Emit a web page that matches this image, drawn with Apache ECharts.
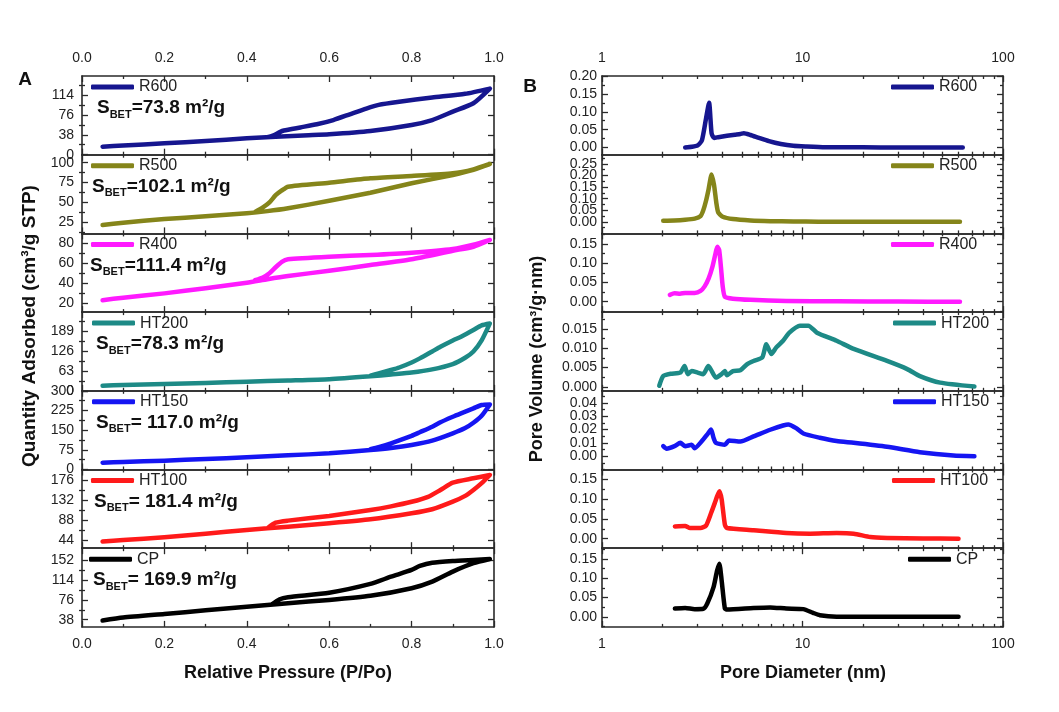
<!DOCTYPE html>
<html><head><meta charset="utf-8">
<script src="https://cdn.jsdelivr.net/npm/echarts@6/dist/echarts.min.js"></script>
<style>html,body{margin:0;padding:0;background:#fff}#c{width:1059px;height:712px}</style>
</head><body><div id="c"></div>
<script>
// ---------------- DATA ----------------
const samples = ['R600', 'R500', 'R400', 'HT200', 'HT150', 'HT100', 'CP'];
const colors = ['#16168f', '#85851a', '#ff1aff', '#1d8a86', '#1515f2', '#ff1a1a', '#000000'];
const sbetText = ['=73.8 m²/g', '=102.1 m²/g', '=111.4 m²/g', '=78.3 m²/g', '= 117.0 m²/g', '= 181.4 m²/g', '= 169.9 m²/g'];

// Isotherms: adsorption (P ascending) and desorption (P descending)
const r600AdsP = [0.05, 0.1, 0.2, 0.3, 0.4, 0.47, 0.55, 0.6, 0.7, 0.8, 0.85, 0.9, 0.95, 0.99];
const r600AdsQ = [15.3, 17.5, 21.7, 26, 31.3, 34.3, 37, 38.8, 45.2, 56.6, 66, 82, 98, 126];
const r600DesP = [0.99, 0.93, 0.85, 0.77, 0.72, 0.69, 0.65, 0.61, 0.57, 0.53, 0.49, 0.48, 0.465, 0.45];
const r600DesQ = [126, 116, 109, 101, 95, 88, 77, 66, 58, 52, 46, 43, 37, 33.5];

const r500AdsP = [0.05, 0.1, 0.2, 0.3, 0.4, 0.45, 0.5, 0.6, 0.7, 0.8, 0.9, 0.95, 0.99];
const r500AdsQ = [21.6, 24.5, 29.1, 32.5, 36.3, 39, 42.6, 52, 62.2, 74, 84.5, 90.8, 98.3];
const r500DesP = [0.99, 0.95, 0.9, 0.8, 0.7, 0.6, 0.5, 0.485, 0.47, 0.455, 0.44, 0.42];
const r500DesQ = [98.3, 91.6, 86.6, 83.2, 80.3, 74.8, 69.8, 65, 59, 50, 44, 38];

const r400AdsP = [0.05, 0.1, 0.2, 0.3, 0.4, 0.45, 0.5, 0.6, 0.7, 0.8, 0.9, 0.95, 0.99];
const r400AdsQ = [23, 25.5, 29.8, 35, 40.5, 44, 47.2, 52.5, 58.2, 64, 72.6, 76.6, 83.4];
const r400DesP = [0.99, 0.95, 0.9, 0.8, 0.7, 0.6, 0.5, 0.485, 0.47, 0.455, 0.44, 0.42];
const r400DesQ = [83.4, 78.6, 74.3, 70.6, 68.3, 66.6, 64, 61.5, 56, 50, 46, 43];

const ht200AdsP = [0.05, 0.1, 0.2, 0.3, 0.4, 0.5, 0.6, 0.7, 0.75, 0.8, 0.85, 0.9, 0.93, 0.95, 0.97, 0.99];
const ht200AdsQ = [16.3, 18.5, 21.6, 25, 29, 32.5, 36.5, 46, 52, 58, 68, 85, 105, 125, 160, 214];
const ht200DesP = [0.99, 0.97, 0.95, 0.92, 0.9, 0.87, 0.85, 0.82, 0.8, 0.77, 0.75, 0.72, 0.7];
const ht200DesQ = [214, 208, 193, 172, 160, 140, 125, 103, 90, 74, 66, 55, 48];

const ht150AdsP = [0.05, 0.1, 0.2, 0.3, 0.4, 0.5, 0.6, 0.7, 0.75, 0.8, 0.85, 0.9, 0.93, 0.95, 0.97, 0.99];
const ht150AdsQ = [26, 29, 33.6, 40, 46.5, 54, 61.7, 74.3, 82, 93.4, 110, 138, 158, 178, 205, 248];
const ht150DesP = [0.99, 0.97, 0.95, 0.92, 0.9, 0.87, 0.85, 0.82, 0.8, 0.75, 0.72, 0.7];
const ht150DesQ = [248, 246, 233, 214, 201, 180, 163, 142, 128, 100, 85, 77];

const ht100AdsP = [0.05, 0.1, 0.2, 0.3, 0.4, 0.5, 0.6, 0.7, 0.8, 0.85, 0.9, 0.93, 0.95, 0.97, 0.99];
const ht100AdsQ = [41.5, 45, 51, 59, 67, 74.4, 82, 90.6, 103.8, 112.6, 129.3, 142, 155, 170, 188];
const ht100DesP = [0.99, 0.95, 0.9, 0.87, 0.84, 0.8, 0.75, 0.7, 0.6, 0.5, 0.47, 0.45];
const ht100DesQ = [188, 180.6, 171, 155, 140, 129, 119, 111, 98, 87.6, 83, 71];

const cpAdsP = [0.05, 0.1, 0.2, 0.3, 0.4, 0.5, 0.6, 0.7, 0.8, 0.85, 0.9, 0.95, 0.99];
const cpAdsQ = [36.2, 42, 49, 56, 63, 69.8, 76, 84, 98.7, 111.5, 130.8, 147, 155];
const cpDesP = [0.99, 0.95, 0.9, 0.85, 0.82, 0.8, 0.75, 0.7, 0.6, 0.5, 0.48, 0.46];
const cpDesQ = [155, 153.4, 151.4, 148, 141.8, 134, 121, 107, 90, 81.4, 77.5, 67];

// Pore size distributions
const r600D = [2.6, 2.8, 3.0, 3.15, 3.3, 3.42, 3.52, 3.62, 3.8, 4.2, 4.6, 4.9, 5.1, 5.5, 6.0, 6.8, 7.8, 9, 10.5, 13, 20, 30, 45, 63];
const r600V = [0.000, 0.002, 0.006, 0.02, 0.08, 0.125, 0.04, 0.027, 0.029, 0.033, 0.036, 0.038, 0.040, 0.035, 0.028, 0.018, 0.010, 0.005, 0.003, 0.001, 0.0005, 0.0002, 0.0001, 0.0];
const r500D = [2.02, 2.3, 2.6, 2.9, 3.1, 3.2, 3.3, 3.4, 3.52, 3.62, 3.72, 3.8, 4.0, 4.5, 5.5, 6.9, 9, 12, 20, 35, 61];
const r500V = [0.005, 0.006, 0.009, 0.014, 0.025, 0.05, 0.09, 0.14, 0.205, 0.16, 0.08, 0.04, 0.022, 0.012, 0.006, 0.003, 0.0015, 0.0008, 0.0003, 0.0001, 0.0];
const r400D = [2.18, 2.3, 2.45, 2.6, 2.9, 3.1, 3.25, 3.4, 3.55, 3.68, 3.76, 3.84, 3.92, 4.0, 4.1, 4.5, 5.5, 8.3, 15, 30, 61];
const r400V = [0.018, 0.022, 0.021, 0.023, 0.023, 0.028, 0.04, 0.06, 0.09, 0.125, 0.143, 0.135, 0.09, 0.04, 0.013, 0.008, 0.005, 0.002, 0.001, 0.0005, 0.0];
const ht200D = [1.93, 2.02, 2.2, 2.46, 2.58, 2.68, 2.8, 3.0, 3.2, 3.39, 3.5, 3.7, 3.95, 4.1, 4.2, 4.5, 4.9, 5.3, 5.7, 6.3, 6.6, 7.0, 7.4, 8.0, 8.6, 9.7, 10.7, 11.8, 14.8, 18, 26.4, 33.3, 38.5, 48.6, 72];
const ht200V = [0.0003, 0.0028, 0.0034, 0.0037, 0.0054, 0.0033, 0.0041, 0.0037, 0.0033, 0.0054, 0.0044, 0.0024, 0.0033, 0.0041, 0.003, 0.0041, 0.0043, 0.0059, 0.0067, 0.0076, 0.011, 0.0085, 0.0102, 0.0119, 0.014, 0.0158, 0.0158, 0.014, 0.0119, 0.0098, 0.0067, 0.0046, 0.0028, 0.0011, 0.0001];
const ht150D = [2.02, 2.1, 2.3, 2.46, 2.6, 2.8, 2.9, 3.15, 3.35, 3.5, 3.6, 3.7, 4.1, 4.3, 4.9, 5.7, 6.9, 8.0, 8.5, 9.3, 10.1, 12.2, 14.8, 18, 26.4, 38.5, 56.5, 72];
const ht150V = [0.0075, 0.0056, 0.0075, 0.01, 0.0075, 0.0085, 0.006, 0.0113, 0.0163, 0.02, 0.0138, 0.01, 0.0085, 0.0118, 0.011, 0.0148, 0.0198, 0.023, 0.0238, 0.021, 0.017, 0.0138, 0.0113, 0.01, 0.007, 0.003, 0.0005, 0.0];
const ht100D = [2.31, 2.6, 2.75, 3.1, 3.3, 3.5, 3.65, 3.75, 3.85, 3.95, 4.1, 4.2, 5.7, 8.3, 10.9, 14.8, 18, 21.8, 26.4, 40, 60];
const ht100V = [0.031, 0.032, 0.027, 0.027, 0.033, 0.065, 0.09, 0.107, 0.12, 0.1, 0.0355, 0.027, 0.0215, 0.0144, 0.0127, 0.0144, 0.0127, 0.0042, 0.002, 0.0005, 0.0];
const cpD = [2.31, 2.6, 2.9, 3.2, 3.35, 3.6, 3.75, 3.85, 3.95, 4.1, 4.2, 5.7, 6.9, 8.3, 10.1, 11.3, 12.2, 14.8, 30, 60];
const cpV = [0.0216, 0.023, 0.02, 0.021, 0.0345, 0.077, 0.12, 0.138, 0.095, 0.0216, 0.019, 0.023, 0.0246, 0.0216, 0.02, 0.0103, 0.0044, 0.0005, 0.0, 0.0];

// Axis ranges and tick labels
const leftYMin = [0, 11, 11, 0, 0, 27, 24];
const leftYMax = [150, 110, 90, 250, 300, 200, 176];
const leftYTicks = [[0, 38, 76, 114], [25, 50, 75, 100], [20, 40, 60, 80], [0, 63, 126, 189], [0, 75, 150, 225, 300], [44, 88, 132, 176], [38, 76, 114, 152]];
const leftYMinor = [[19, 57, 95, 133], [12.5, 37.5, 62.5, 87.5], [30, 50, 70], [31.5, 94.5, 157.5, 220.5], [37.5, 112.5, 187.5, 262.5], [66, 110, 154], [57, 95, 133]];
const rightYMin = [-0.02, -0.05, -0.027, -0.001, -0.01, -0.024, -0.026];
const rightYMax = [0.20, 0.29, 0.178, 0.0193, 0.049, 0.175, 0.178];
const rightYTicks = [[0, 0.05, 0.10, 0.15, 0.20], [0, 0.05, 0.10, 0.15, 0.20, 0.25], [0, 0.05, 0.10, 0.15], [0, 0.005, 0.010, 0.015], [0, 0.01, 0.02, 0.03, 0.04], [0, 0.05, 0.10, 0.15], [0, 0.05, 0.10, 0.15]];
const rightYMinor = [[-0.025, 0.025, 0.075, 0.125, 0.175], [-0.025, 0.025, 0.075, 0.125, 0.175, 0.225, 0.275], [-0.025, 0.025, 0.075, 0.125, 0.175], [0.0025, 0.0075, 0.0125, 0.0175], [-0.005, 0.005, 0.015, 0.025, 0.035, 0.045], [-0.025, 0.025, 0.075, 0.125, 0.175], [-0.025, 0.025, 0.075, 0.125, 0.175]];
const rightYDecimals = [2, 2, 2, 3, 2, 2, 2];

// ---------------- BUILD ----------------
const iso = [
  [r600AdsP, r600AdsQ, r600DesP, r600DesQ], [r500AdsP, r500AdsQ, r500DesP, r500DesQ],
  [r400AdsP, r400AdsQ, r400DesP, r400DesQ], [ht200AdsP, ht200AdsQ, ht200DesP, ht200DesQ],
  [ht150AdsP, ht150AdsQ, ht150DesP, ht150DesQ], [ht100AdsP, ht100AdsQ, ht100DesP, ht100DesQ],
  [cpAdsP, cpAdsQ, cpDesP, cpDesQ]
];
const psd = [[r600D, r600V], [r500D, r500V], [r400D, r400V], [ht200D, ht200V], [ht150D, ht150V], [ht100D, ht100V], [cpD, cpV]];
const zip = (a, b) => a.map((v, i) => [v, b[i]]);

const FONT = '"Liberation Sans", Arial, sans-serif';
const TOP = 76, H = 78.7;
const LG = {left: 82, width: 412}, RG = {left: 602, width: 401};
const AXC = '#2a2a2a';
const lineSt = {color: AXC, width: 1.6};
const tickSt = {color: AXC, width: 1.3};
const labelSt = {color: '#222', fontSize: 14, fontFamily: FONT};

const grid = [], xAxis = [], yAxis = [], series = [], legend = [], title = [];

for (let side = 0; side < 2; side++) {
  for (let i = 0; i < 7; i++) {
    const g = grid.length;
    const base = side === 0 ? LG : RG;
    grid.push({left: base.left, width: base.width, top: TOP + i * H, height: H});
    const xIdx = xAxis.length;
    ['bottom', 'top'].forEach(pos => {
      const showLab = (pos === 'bottom' && i === 6) || (pos === 'top' && i === 0);
      const ax = {
        gridIndex: g, position: pos,
        axisLine: {show: true, onZero: false, lineStyle: lineSt},
        axisTick: {show: true, inside: true, length: 6, lineStyle: tickSt},
        splitLine: {show: false},
        axisLabel: Object.assign({show: showLab, margin: pos === 'top' ? 11 : 10, showMinLabel: true, showMaxLabel: true}, labelSt)
      };
      if (side === 0) {
        Object.assign(ax, {type: 'value', min: 0, max: 1, interval: 0.2});
        ax.minorTick = {show: true, splitNumber: 2, length: 3, lineStyle: tickSt};
        ax.axisLabel.formatter = v => v.toFixed(1);
      } else {
        Object.assign(ax, {type: 'log', logBase: 10, min: 1, max: 100});
        ax.minorTick = {show: true, splitNumber: 9, length: 3, lineStyle: tickSt};
        ax.axisLabel.formatter = v => String(Math.round(v));
      }
      xAxis.push(ax);
    });
    const ymin = side === 0 ? leftYMin[i] : rightYMin[i];
    const ymax = side === 0 ? leftYMax[i] : rightYMax[i];
    const majors = side === 0 ? leftYTicks[i] : rightYTicks[i];
    const minors = side === 0 ? leftYMinor[i] : rightYMinor[i];
    const dec = side === 0 ? 0 : rightYDecimals[i];
    // labels split over two axes (alternating) so the library never drops crowded ones
    const labA = majors.filter((v, k) => k % 2 === 0);
    const labB = majors.filter((v, k) => k % 2 === 1);
    const yIdx = yAxis.length;
    const labOpt = (vals, show) => Object.assign({show: show, customValues: vals, margin: side === 0 ? 8 : 5,
      showMinLabel: true, showMaxLabel: true, hideOverlap: false,
      formatter: v => Number(v).toFixed(dec)}, labelSt);
    ['left', 'right'].forEach(pos => {
      yAxis.push({
        gridIndex: g, type: 'value', position: pos, min: ymin, max: ymax,
        axisLine: {show: true, onZero: false, lineStyle: lineSt},
        axisTick: {show: true, inside: true, length: 6, customValues: majors, lineStyle: tickSt},
        splitLine: {show: false},
        axisLabel: labOpt(labA, pos === 'left')
      });
      yAxis.push({
        gridIndex: g, type: 'value', position: pos, min: ymin, max: ymax,
        axisLine: {show: false},
        axisTick: {show: true, inside: true, length: 3, customValues: minors, lineStyle: tickSt},
        splitLine: {show: false},
        axisLabel: labOpt(labB, pos === 'left' && labB.length > 0)
      });
    });
    let data;
    if (side === 0) {
      const d = iso[i];
      data = zip(d[0], d[1]).concat(zip(d[2], d[3]));
    } else {
      data = zip(psd[i][0], psd[i][1]);
    }
    series.push({
      name: samples[i], type: 'line', xAxisIndex: xIdx, yAxisIndex: yIdx, data: data,
      showSymbol: false, symbol: 'none', smooth: 0.2, clip: true,
      lineStyle: {width: 4.5, color: colors[i], cap: 'round', join: 'round'},
      itemStyle: {color: colors[i]}, z: 3
    });
    const legLeft = side === 0 ? [91, 91, 91, 92, 92, 91, 89][i] : [891, 891, 891, 893, 893, 892, 908][i];
    legend.push({
      data: [{name: samples[i], icon: 'roundRect'}], left: legLeft, top: TOP + i * H + 3,
      itemWidth: 43, itemHeight: 5, padding: 0, selectedMode: false,
      textStyle: {fontSize: 16, color: '#222', fontFamily: FONT}
    });
    if (side === 0) {
      title.push({
        text: '{s|S}{b|BET}{t|' + sbetText[i] + '}',
        left: [97, 92, 90, 96, 96, 94, 93][i], top: TOP + i * H + 20, padding: 0,
        textStyle: {
          rich: {
            s: {fontSize: 19, fontWeight: 'bold', fontFamily: FONT, color: '#111', lineHeight: 24, verticalAlign: 'middle'},
            b: {fontSize: 11, fontWeight: 'bold', fontFamily: FONT, color: '#111', lineHeight: 10, verticalAlign: 'bottom'},
            t: {fontSize: 19, fontWeight: 'bold', fontFamily: FONT, color: '#111', lineHeight: 24, verticalAlign: 'middle'}
          }
        }
      });
    }
  }
}

const txt = (x, y, text, size, rot) => ({
  type: 'text', x: x, y: y, rotation: rot || 0, silent: true,
  style: {text: text, font: 'bold ' + size + 'px ' + FONT, fill: '#111',
    align: 'center', verticalAlign: 'middle', textAlign: 'center', textVerticalAlign: 'middle'}
});

const option = {
  animation: false,
  backgroundColor: '#fff',
  grid, xAxis, yAxis, series, legend, title,
  graphic: [
    txt(25, 80, 'A', 19), txt(530, 87, 'B', 19),
    txt(288, 673, 'Relative Pressure (P/Po)', 18),
    txt(803, 673, 'Pore Diameter (nm)', 18),
    txt(30, 326, 'Quantity Adsorbed (cm³/g STP)', 19, Math.PI / 2),
    txt(537, 359, 'Pore Volume (cm³/g·nm)', 18, Math.PI / 2)
  ]
};
const chart = echarts.init(document.getElementById('c'));
chart.setOption(option);
</script>
</body></html>
